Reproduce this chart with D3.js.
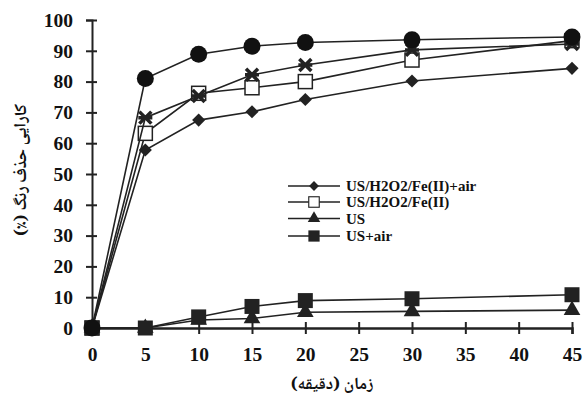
<!DOCTYPE html>
<html>
<head>
<meta charset="utf-8">
<script src="https://cdn.jsdelivr.net/npm/d3@7"></script>
<style>
    body { margin: 0; background: #fff; }
</style>
</head>
<body>
<div id="chart"></div>
<script>
// زمان (دقیقه)
let times = [0, 5, 10, 15, 20, 30, 45]
let xTicks = [0, 5, 10, 15, 20, 25, 30, 35, 40, 45]
let yTicks = [0, 10, 20, 30, 40, 50, 60, 70, 80, 90, 100]

let seriesNames = ["US/H2O2/Fe(II)+air", "US/H2O2/Fe(II)", "US", "US+air"]
let diamondVals = [0, 57.8, 67.5, 70.2, 74.2, 80.2, 84.3]
let openSqVals = [0, 63.2, 76.2, 78, 80, 87, 93.3]
let crossVals = [0, 68.3, 75.3, 82.2, 85.4, 90.3, 92.2]
let triVals = [0, 0, 2.6, 3.1, 5.1, 5.4, 5.8]
let sqVals = [0, 0, 3.6, 7.0, 8.9, 9.5, 10.8]
let circleVals = [0, 81, 88.9, 91.5, 92.7, 93.6, 94.5]

let width = 583, height = 400
let margin = { top: 20, right: 11, bottom: 72, left: 92 }

let svg = d3.select("#chart").append("svg")
    .attr("width", width)
    .attr("height", height)
    .attr("font-family", "Liberation Serif")
    .attr("font-weight", "bold")

let x = d3.scaleLinear().domain([0, 45]).range([margin.left, width - margin.right])
let y = d3.scaleLinear().domain([0, 100]).range([height - margin.bottom, margin.top])

let ink = "#222"

// axes
let yAxis = svg.append("g").attr("transform", "translate(" + margin.left + ",0)")
    .call(d3.axisLeft(y).tickValues(yTicks).tickSize(6).tickPadding(13))
yAxis.attr("font-family", "Liberation Serif").attr("font-size", 19.5)
yAxis.selectAll(".tick line").attr("x1", -6).attr("x2", 5).attr("stroke", ink).attr("stroke-width", 2)
yAxis.select(".domain").attr("stroke", ink).attr("stroke-width", 2)
yAxis.selectAll(".tick text").attr("fill", "#111")

let xAxis = svg.append("g").attr("transform", "translate(0," + y(0) + ")")
    .call(d3.axisBottom(x).tickValues(xTicks).tickSize(6).tickPadding(13))
xAxis.attr("font-family", "Liberation Serif").attr("font-size", 19.5)
xAxis.selectAll(".tick line").attr("y1", -6).attr("y2", 6).attr("stroke", ink).attr("stroke-width", 2)
xAxis.select(".domain").attr("stroke", ink).attr("stroke-width", 2.5)
xAxis.selectAll(".tick text").attr("fill", "#111")

// axis titles
svg.append("text")
    .attr("x", 332)
    .attr("y", 389)
    .attr("text-anchor", "middle")
    .attr("direction", "rtl")
    .attr("font-family", "Noto Naskh Arabic")
    .attr("font-size", 17)
    .attr("fill", "#111")
    .text("زمان (دقیقه)")

svg.append("text")
    .attr("transform", "translate(22,170) rotate(-90)")
    .attr("text-anchor", "middle")
    .attr("dominant-baseline", "central")
    .attr("direction", "rtl")
    .attr("font-family", "Noto Naskh Arabic")
    .attr("font-size", 17)
    .attr("fill", "#111")
    .text("کارایی حذف رنگ (٪)")

// marker shapes
function drawMarker(g, kind, cx, cy) {
    if (kind === "diamond") {
        g.append("path").attr("d", d3.symbol(d3.symbolDiamond2, 110)())
            .attr("transform", "translate(" + cx + "," + cy + ")").attr("fill", ink)
    } else if (kind === "openSq") {
        g.append("rect").attr("x", cx - 7).attr("y", cy - 7).attr("width", 14).attr("height", 14)
            .attr("fill", "#fff").attr("stroke", ink).attr("stroke-width", 1.5)
    } else if (kind === "cross") {
        g.append("path").attr("d", "M-6,-6L6,6M-6,6L6,-6M-7,0L7,0")
            .attr("transform", "translate(" + cx + "," + cy + ")")
            .attr("stroke", ink).attr("stroke-width", 3.5).attr("fill", "none")
    } else if (kind === "tri") {
        g.append("path").attr("d", d3.symbol(d3.symbolTriangle, 120)())
            .attr("transform", "translate(" + cx + "," + cy + ")").attr("fill", ink)
    } else if (kind === "sq") {
        g.append("rect").attr("x", cx - 7.5).attr("y", cy - 7.5).attr("width", 15).attr("height", 15)
            .attr("fill", ink)
    } else if (kind === "circle") {
        g.append("circle").attr("cx", cx).attr("cy", cy).attr("r", 8.5).attr("fill", "#111")
    }
}

let series = [
    { vals: diamondVals, kind: "diamond" },
    { vals: openSqVals, kind: "openSq" },
    { vals: crossVals, kind: "cross" },
    { vals: triVals, kind: "tri" },
    { vals: sqVals, kind: "sq" },
    { vals: circleVals, kind: "circle" }
]

let line = d3.line().x((d, i) => x(times[i])).y(d => y(d))

series.forEach(function (s) {
    let g = svg.append("g")
    g.append("path").attr("d", line(s.vals))
        .attr("fill", "none").attr("stroke", ink).attr("stroke-width", 1.6)
    s.vals.forEach(function (v, i) {
        drawMarker(g, s.kind, x(times[i]), y(v))
    })
})

// legend
let legendKinds = ["diamond", "openSq", "tri", "sq"]
let legendY = [186, 202, 218.5, 236]
let lg = svg.append("g")
seriesNames.forEach(function (name, i) {
    lg.append("line").attr("x1", 288).attr("x2", 340).attr("y1", legendY[i]).attr("y2", legendY[i])
        .attr("stroke", ink).attr("stroke-width", 1.6)
    let mg = lg.append("g").attr("transform", "translate(314," + legendY[i] + ") scale(0.75)")
    drawMarker(mg, legendKinds[i], 0, 0)
    lg.append("text").attr("x", 346).attr("y", legendY[i] + 5)
        .attr("font-family", "Liberation Serif").attr("font-size", 15)
        .attr("fill", "#111").text(name)
})
</script>
</body>
</html>
